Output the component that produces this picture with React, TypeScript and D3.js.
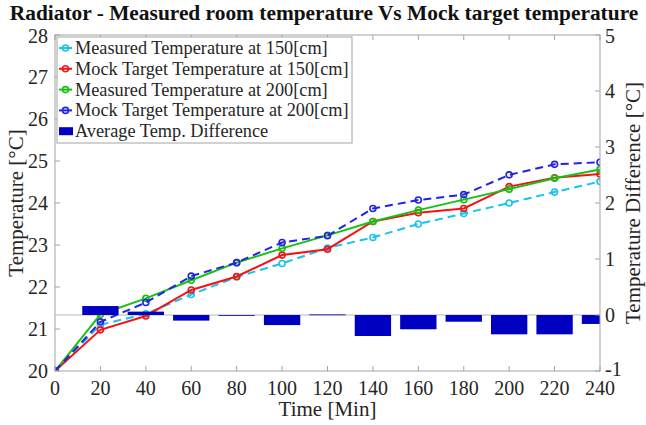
import React from "react";
import * as d3 from "d3";

// Sampling times (minutes)
const times = [0, 20, 40, 60, 80, 100, 120, 140, 160, 180, 200, 220, 240];

// Temperatures in °C
const measured150 = [20, 21.1, 21.36, 21.82, 22.24, 22.56, 22.93, 23.18, 23.5, 23.75, 24.0, 24.26, 24.51];
const mock150 = [20, 20.98, 21.31, 21.93, 22.25, 22.76, 22.9, 23.56, 23.77, 23.87, 24.39, 24.6, 24.69];
const measured200 = [20, 21.35, 21.73, 22.16, 22.58, 22.92, 23.23, 23.56, 23.83, 24.08, 24.33, 24.59, 24.8];
const mock200 = [20, 21.17, 21.63, 22.26, 22.58, 23.06, 23.22, 23.87, 24.07, 24.2, 24.67, 24.92, 24.97];

// Average temperature difference (°C) at each time from 20 to 240
const diffTimes = [20, 40, 60, 80, 100, 120, 140, 160, 180, 200, 220, 240];
const avgDiff = [0.16, 0.06, -0.1, 0, -0.18, 0.01, -0.375, -0.255, -0.12, -0.345, -0.345, -0.16];

const xTicks = [0, 20, 40, 60, 80, 100, 120, 140, 160, 180, 200, 220, 240];
const yLeftTicks = [20, 21, 22, 23, 24, 25, 26, 27, 28];
const yRightTicks = [-1, 0, 1, 2, 3, 4, 5];

const seriesNames = [
  "Measured Temperature at 150[cm]",
  "Mock Target Temperature at 150[cm]",
  "Measured Temperature at 200[cm]",
  "Mock Target Temperature at 200[cm]",
];
const barName = "Average Temp. Difference";

const W = 646;
const H = 425;
const L = 55;
const R = 600;
const T = 35;
const B = 371;

const FONT = "'Liberation Serif', 'Times New Roman', serif";
const AXIS = "#a3a3a3";
const TXT = "#262626";

export default function App() {
  const x = d3.scaleLinear().domain([0, 240]).range([L, R]);
  const yL = d3.scaleLinear().domain([20, 28]).range([B, T]);
  const yR = d3.scaleLinear().domain([-1, 5]).range([B, T]);

  const series = [
    { name: seriesNames[0], values: measured150, color: "#18c4ec", dash: "8,5" },
    { name: seriesNames[1], values: mock150, color: "#f21414", dash: undefined },
    { name: seriesNames[2], values: measured200, color: "#16c016", dash: undefined },
    { name: seriesNames[3], values: mock200, color: "#2222e0", dash: "8,5" },
  ];

  const line = d3
    .line<[number, number]>()
    .x((d) => x(d[0]))
    .y((d) => yL(d[1]));

  const barW = x(16) - x(0);
  const zeroY = yR(0);
  const tick = 5;

  const legX = 57;
  const legY = 37;
  const legW = 295;
  const legH = 106;
  const rowH = 20.8;
  const row0 = 48;

  return (
    <div style={{ position: "absolute", left: 0, top: 0 }}>
      <svg width={W} height={H} style={{ display: "block", background: "#fff" }}>
        <defs>
          <clipPath id="plotClip">
            <rect x={L} y={T} width={R - L} height={B - T} />
          </clipPath>
        </defs>

        {/* Title */}
        <text
          x={324}
          y={20}
          textAnchor="middle"
          fontFamily={FONT}
          fontWeight="bold"
          fontSize={21.4}
          fill="#111"
        >
          Radiator - Measured room temperature Vs Mock target temperature
        </text>

        {/* Bar baseline */}
        <line x1={L} x2={R} y1={zeroY} y2={zeroY} stroke="#b8b8b8" strokeWidth={1.2} />

        {/* Temperature lines */}
        <g clipPath="url(#plotClip)">
          {series.map((s) => {
            const pts = times.map((t, i) => [t, s.values[i]] as [number, number]);
            return (
              <g key={s.name}>
                <path
                  d={line(pts) || ""}
                  fill="none"
                  stroke={s.color}
                  strokeWidth={2}
                  strokeDasharray={s.dash}
                />
                {pts.map((p, i) => (
                  <circle
                    key={i}
                    cx={x(p[0])}
                    cy={yL(p[1])}
                    r={3}
                    fill="none"
                    stroke={s.color}
                    strokeWidth={1.6}
                  />
                ))}
              </g>
            );
          })}
        </g>

        {/* Difference bars */}
        <g clipPath="url(#plotClip)">
          {diffTimes.map((t, i) => {
            const v = avgDiff[i];
            const y0 = yR(Math.max(0, v));
            const y1 = yR(Math.min(0, v));
            return (
              <rect
                key={t}
                x={x(t) - barW / 2}
                y={y0}
                width={barW}
                height={Math.max(y1 - y0, 0.8)}
                fill="#0000c2"
              />
            );
          })}
        </g>

        {/* Axes box */}
        <rect x={L} y={T} width={R - L} height={B - T} fill="none" stroke={AXIS} strokeWidth={1} />

        {/* X ticks (bottom and top) */}
        {xTicks.map((t) => (
          <g key={t}>
            <line x1={x(t)} x2={x(t)} y1={B} y2={B - tick} stroke={AXIS} />
            <line x1={x(t)} x2={x(t)} y1={T} y2={T + tick} stroke={AXIS} />
            <text
              x={x(t)}
              y={B + 24}
              textAnchor="middle"
              fontFamily={FONT}
              fontSize={20}
              fill={TXT}
            >
              {t}
            </text>
          </g>
        ))}

        {/* Left axis ticks */}
        {yLeftTicks.map((t) => (
          <g key={t}>
            <line x1={L} x2={L + tick} y1={yL(t)} y2={yL(t)} stroke={AXIS} />
            <text
              x={L - 7}
              y={yL(t) + (t === 28 ? 8 : 7)}
              textAnchor="end"
              fontFamily={FONT}
              fontSize={20}
              fill={TXT}
            >
              {t}
            </text>
          </g>
        ))}

        {/* Right axis ticks */}
        {yRightTicks.map((t) => (
          <g key={t}>
            <line x1={R} x2={R - tick} y1={yR(t)} y2={yR(t)} stroke={AXIS} />
            <text
              x={R + 5}
              y={yR(t) + (t === -1 ? 5 : t === 5 ? 8 : 7)}
              textAnchor="start"
              fontFamily={FONT}
              fontSize={20}
              fill={TXT}
            >
              {t}
            </text>
          </g>
        ))}

        {/* Axis labels */}
        <text
          x={(L + R) / 2}
          y={416}
          textAnchor="middle"
          fontFamily={FONT}
          fontSize={21}
          fill={TXT}
        >
          Time [Min]
        </text>
        <text
          transform={`translate(23, ${(T + B) / 2}) rotate(-90)`}
          textAnchor="middle"
          fontFamily={FONT}
          fontSize={21}
          fill={TXT}
        >
          Temperature [°C]
        </text>
        <text
          transform={`translate(640, ${(T + B) / 2}) rotate(-90)`}
          textAnchor="middle"
          fontFamily={FONT}
          fontSize={21}
          fill={TXT}
        >
          Temperature Difference [°C]
        </text>

        {/* Legend */}
        <rect x={legX} y={legY} width={legW} height={legH} fill="#fff" stroke={AXIS} strokeWidth={1} />
        {series.map((s, i) => {
          const cy = row0 + i * rowH;
          return (
            <g key={s.name}>
              <line x1={59} x2={72} y1={cy} y2={cy} stroke={s.color} strokeWidth={2} />
              <circle cx={65.5} cy={cy} r={3} fill="none" stroke={s.color} strokeWidth={1.6} />
              <text x={75} y={cy + 6} fontFamily={FONT} fontSize={18.3} fill={TXT}>
                {s.name}
              </text>
            </g>
          );
        })}
        <rect x={59} y={row0 + 4 * rowH - 4} width={14} height={8} fill="#0000c2" />
        <text x={75} y={row0 + 4 * rowH + 6} fontFamily={FONT} fontSize={18.3} fill={TXT}>
          {barName}
        </text>
      </svg>
    </div>
  );
}
